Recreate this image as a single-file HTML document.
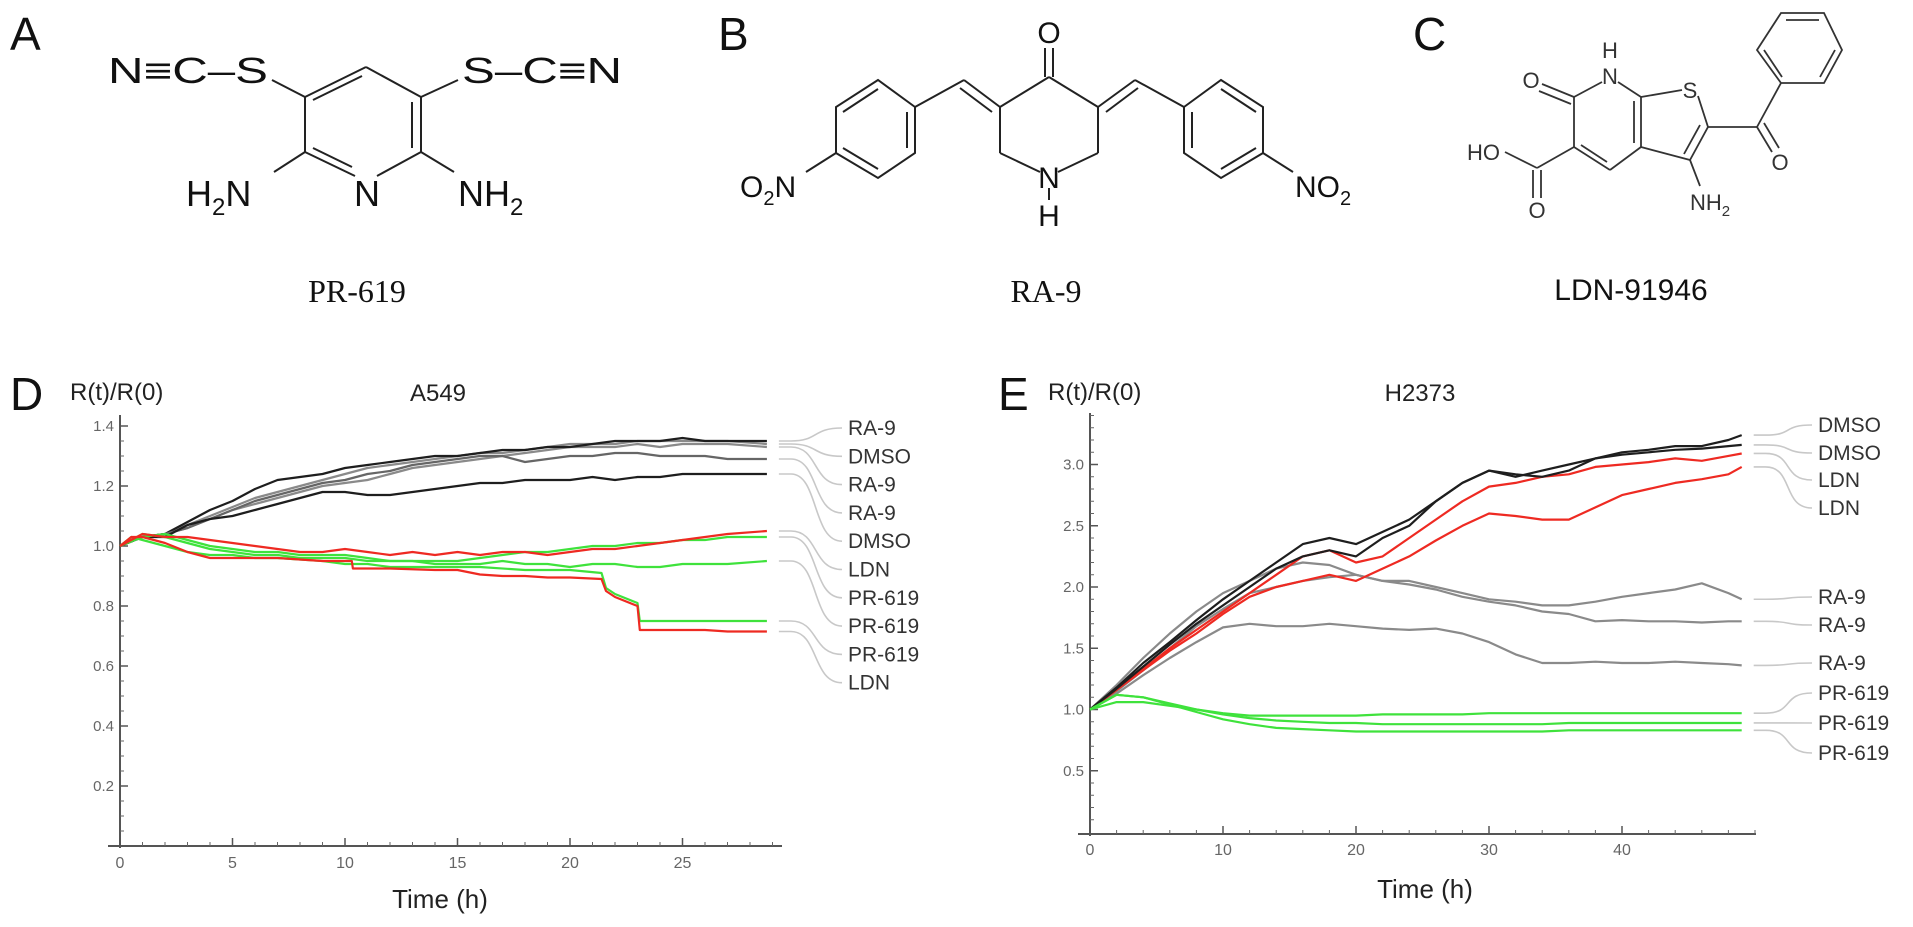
<!DOCTYPE html>
<html><head><meta charset="utf-8">
<style>
html,body{margin:0;padding:0;background:#fff;}
svg{display:block;font-family:"Liberation Sans",sans-serif;}
</style></head>
<body>
<svg id="fig" width="1913" height="927" viewBox="0 0 1913 927">
<text x="10" y="50" font-size="46" fill="#111">A</text>
<text x="718" y="50" font-size="46" fill="#111">B</text>
<text x="1413" y="50" font-size="46" fill="#111">C</text>
<text x="10" y="410" font-size="46" fill="#111">D</text>
<text x="998" y="410" font-size="46" fill="#111">E</text>

<g stroke="#222" stroke-width="2" fill="none">
  <line x1="366" y1="67" x2="305" y2="97"/><line x1="362" y1="76" x2="313" y2="100"/>
  <line x1="366" y1="67" x2="421" y2="97"/>
  <line x1="305" y1="97" x2="305" y2="152"/>
  <line x1="421" y1="97" x2="421" y2="152"/><line x1="412" y1="102" x2="412" y2="148"/>
  <line x1="305" y1="152" x2="355" y2="176"/><line x1="313" y1="148" x2="352" y2="167"/>
  <line x1="421" y1="152" x2="377" y2="176"/>
  <line x1="305" y1="97" x2="272" y2="80"/>
  <line x1="421" y1="97" x2="458" y2="80"/>
  <line x1="305" y1="152" x2="274" y2="172"/>
  <line x1="421" y1="152" x2="454" y2="172"/>
</g>
<g font-size="36" fill="#111">
  <text x="108" y="83" textLength="160" lengthAdjust="spacingAndGlyphs">N≡C–S</text>
  <text x="462" y="83" textLength="160" lengthAdjust="spacingAndGlyphs">S–C≡N</text>
  <text x="186" y="206">H<tspan font-size="24" dy="9">2</tspan><tspan dy="-9">N</tspan></text>
  <text x="354" y="206">N</text>
  <text x="458" y="206">NH<tspan font-size="24" dy="9">2</tspan></text>
</g>
<text x="357" y="302" font-family="Liberation Serif, serif" font-size="32" text-anchor="middle" fill="#111">PR-619</text>

<g stroke="#222" stroke-width="2" fill="none">
  <line x1="1045" y1="48" x2="1045" y2="77"/><line x1="1053" y1="48" x2="1053" y2="77"/>
  <line x1="1049" y1="77" x2="1000" y2="107"/><line x1="1049" y1="77" x2="1098" y2="107"/>
  <line x1="1000" y1="107" x2="1000" y2="153"/><line x1="1098" y1="107" x2="1098" y2="153"/>
  <line x1="1000" y1="153" x2="1040" y2="172"/><line x1="1098" y1="153" x2="1058" y2="172"/>
  <line x1="1049" y1="188" x2="1049" y2="200"/>
  <line x1="1000" y1="107" x2="964" y2="80"/><line x1="992" y1="112" x2="960" y2="88"/>
  <line x1="964" y1="80" x2="915" y2="107"/>
  <polygon points="915,107 878,80 836,107 836,153 878,178 915,153"/>
  <line x1="907" y1="112" x2="907" y2="148"/><line x1="843" y1="112" x2="878" y2="89"/><line x1="843" y1="148" x2="878" y2="169"/>
  <line x1="836" y1="153" x2="806" y2="172"/>
  <line x1="1098" y1="107" x2="1135" y2="80"/><line x1="1106" y1="112" x2="1138" y2="88"/>
  <line x1="1135" y1="80" x2="1184" y2="107"/>
  <polygon points="1184,107 1221,80 1263,107 1263,153 1221,178 1184,153"/>
  <line x1="1192" y1="112" x2="1192" y2="148"/><line x1="1256" y1="112" x2="1221" y2="89"/><line x1="1256" y1="148" x2="1221" y2="169"/>
  <line x1="1263" y1="153" x2="1293" y2="172"/>
</g>
<g font-size="30" fill="#111">
  <text x="1049" y="43" text-anchor="middle">O</text>
  <text x="1049" y="188" text-anchor="middle">N</text>
  <text x="1049" y="226" text-anchor="middle">H</text>
  <text x="740" y="197">O<tspan font-size="20" dy="8">2</tspan><tspan dy="-8">N</tspan></text>
  <text x="1295" y="197">NO<tspan font-size="20" dy="8">2</tspan></text>
</g>
<text x="1046" y="302" font-family="Liberation Serif, serif" font-size="32" text-anchor="middle" fill="#111">RA-9</text>

<g stroke="#333" stroke-width="1.8" fill="none">
  <line x1="1602" y1="82" x2="1574" y2="97"/>
  <line x1="1618" y1="82" x2="1641" y2="97"/>
  <line x1="1641" y1="97" x2="1641" y2="147"/><line x1="1634" y1="101" x2="1634" y2="143"/>
  <line x1="1641" y1="147" x2="1610" y2="170"/>
  <line x1="1610" y1="170" x2="1574" y2="147"/><line x1="1607" y1="162" x2="1581" y2="145"/>
  <line x1="1574" y1="147" x2="1574" y2="97"/>
  <line x1="1574" y1="97" x2="1542" y2="84"/><line x1="1571" y1="104" x2="1539" y2="91"/>
  <line x1="1641" y1="97" x2="1682" y2="90"/>
  <line x1="1698" y1="96" x2="1708" y2="127"/>
  <line x1="1708" y1="127" x2="1690" y2="160"/><line x1="1700" y1="125" x2="1684" y2="154"/>
  <line x1="1690" y1="160" x2="1641" y2="147"/>
  <line x1="1690" y1="160" x2="1700" y2="186"/>
  <line x1="1708" y1="127" x2="1757" y2="127"/>
  <line x1="1757" y1="127" x2="1772" y2="152"/><line x1="1764" y1="123" x2="1779" y2="148"/>
  <line x1="1757" y1="127" x2="1781" y2="83"/>
  <polygon points="1781,83 1757,50 1781,13 1824,13 1842,50 1824,83"/>
  <line x1="1786" y1="20" x2="1819" y2="20"/><line x1="1835" y1="50" x2="1820" y2="77"/><line x1="1764" y1="50" x2="1782" y2="77"/>
  <line x1="1574" y1="147" x2="1537" y2="168"/>
  <line x1="1537" y1="168" x2="1505" y2="152"/>
  <line x1="1533" y1="170" x2="1533" y2="198"/><line x1="1541" y1="170" x2="1541" y2="198"/>
</g>
<g font-size="22" fill="#333">
  <text x="1610" y="58" text-anchor="middle">H</text>
  <text x="1610" y="84" text-anchor="middle">N</text>
  <text x="1531" y="88" text-anchor="middle">O</text>
  <text x="1690" y="98" text-anchor="middle">S</text>
  <text x="1780" y="170" text-anchor="middle">O</text>
  <text x="1467" y="160">HO</text>
  <text x="1537" y="218" text-anchor="middle">O</text>
  <text x="1690" y="210">NH<tspan font-size="15" dy="6">2</tspan></text>
</g>
<text x="1631" y="300" font-size="30" text-anchor="middle" fill="#111">LDN-91946</text>

<g id="chartD"></g>
<g id="chartE"></g>
</svg>

<script>
// ===== Chart D (A549) data =====
const dTimes = [0,1,2,3,4,5,6,7,8,9,10,11,12,13,14,15,16,17,18,19,20,21,22,23,24,25,26,27,28.75];
const dRa9a = [1.0,1.03,1.04,1.08,1.12,1.15,1.19,1.22,1.23,1.24,1.26,1.27,1.28,1.29,1.30,1.30,1.31,1.32,1.32,1.33,1.33,1.34,1.35,1.35,1.35,1.36,1.35,1.35,1.35];
const dDmsoA = [1.0,1.03,1.04,1.07,1.10,1.13,1.16,1.18,1.20,1.22,1.24,1.26,1.27,1.28,1.29,1.30,1.31,1.31,1.32,1.33,1.34,1.34,1.34,1.35,1.35,1.35,1.35,1.35,1.34];
const dRa9b = [1.0,1.03,1.04,1.06,1.09,1.12,1.15,1.17,1.19,1.21,1.22,1.24,1.25,1.27,1.28,1.29,1.30,1.30,1.28,1.29,1.30,1.30,1.31,1.31,1.30,1.30,1.30,1.29,1.29];
const dRa9c = [1.0,1.03,1.03,1.07,1.09,1.10,1.12,1.14,1.16,1.18,1.18,1.17,1.17,1.18,1.19,1.20,1.21,1.21,1.22,1.22,1.22,1.23,1.22,1.23,1.23,1.24,1.24,1.24,1.24];
const dDmsoB = [1.0,1.03,1.04,1.06,1.09,1.12,1.14,1.16,1.18,1.20,1.21,1.22,1.24,1.26,1.27,1.28,1.29,1.30,1.31,1.32,1.33,1.33,1.33,1.34,1.33,1.34,1.34,1.34,1.33];
const dLdnA = [1.0,1.04,1.03,1.03,1.02,1.01,1.00,0.99,0.98,0.98,0.99,0.98,0.97,0.98,0.97,0.98,0.97,0.98,0.98,0.97,0.98,0.99,0.99,1.00,1.01,1.02,1.03,1.04,1.05];
const dPrA = [1.0,1.03,1.04,1.02,1.00,0.99,0.98,0.98,0.97,0.97,0.97,0.96,0.95,0.95,0.95,0.95,0.96,0.97,0.98,0.98,0.99,1.00,1.00,1.01,1.01,1.02,1.02,1.03,1.03];
const dPrB = [1.0,1.04,1.03,1.01,0.99,0.98,0.97,0.97,0.96,0.96,0.96,0.95,0.95,0.95,0.94,0.94,0.94,0.95,0.94,0.94,0.93,0.94,0.94,0.93,0.93,0.94,0.94,0.94,0.95];
const dPrCTimes = [0,0.5,1,2,3,4,5,6,7,8,9,10,11,12,14,16,18,20,21.4,21.6,22,23,23.1,24,26,28.75];
const dPrC = [1.0,1.03,1.02,1.0,0.98,0.97,0.97,0.96,0.96,0.955,0.95,0.94,0.94,0.93,0.93,0.93,0.92,0.92,0.91,0.86,0.84,0.81,0.75,0.75,0.75,0.75];
const dLdnBTimes = [0,0.5,1,1.5,2,3,4,5,6,7,8,9,10.3,10.35,12,14,15,16,17,18,19,20,21.4,21.6,22,23,23.1,24,25,26,27,28.75];
const dLdnB = [1.0,1.03,1.03,1.02,1.01,0.98,0.96,0.96,0.96,0.96,0.955,0.95,0.95,0.925,0.925,0.92,0.92,0.905,0.90,0.90,0.895,0.895,0.89,0.85,0.83,0.80,0.72,0.72,0.72,0.72,0.715,0.715];
const dLabels = ["RA-9","DMSO","RA-9","RA-9","DMSO","LDN","PR-619","PR-619","PR-619","LDN"];
const dYTicks = [0.2,0.4,0.6,0.8,1.0,1.2,1.4];
const dXTicks = [0,5,10,15,20,25];

// ===== Chart E (H2373) data =====
const eTimes = [0,2,4,6,8,10,12,14,16,18,20,22,24,26,28,30,32,34,36,38,40,42,44,46,48,49];
const eDmsoA = [1.0,1.18,1.38,1.55,1.73,1.90,2.05,2.20,2.35,2.40,2.35,2.45,2.55,2.70,2.85,2.95,2.92,2.90,2.95,3.05,3.10,3.12,3.15,3.15,3.20,3.24];
const eDmsoB = [1.0,1.17,1.35,1.53,1.70,1.85,2.00,2.15,2.25,2.30,2.25,2.40,2.50,2.70,2.85,2.95,2.90,2.95,3.00,3.05,3.08,3.10,3.12,3.13,3.15,3.16];
const eLdnA = [1.0,1.16,1.33,1.50,1.65,1.80,1.95,2.10,2.25,2.30,2.20,2.25,2.40,2.55,2.70,2.82,2.85,2.90,2.92,2.98,3.00,3.02,3.05,3.03,3.07,3.09];
const eLdnB = [1.0,1.16,1.32,1.48,1.62,1.78,1.92,2.00,2.05,2.10,2.05,2.15,2.25,2.38,2.50,2.60,2.58,2.55,2.55,2.65,2.75,2.80,2.85,2.88,2.92,2.98];
const eRa9a = [1.0,1.20,1.42,1.62,1.80,1.95,2.05,2.15,2.20,2.18,2.10,2.05,2.05,2.00,1.95,1.90,1.88,1.85,1.85,1.88,1.92,1.95,1.98,2.03,1.95,1.90];
const eRa9b = [1.0,1.15,1.32,1.50,1.68,1.82,1.95,2.00,2.05,2.08,2.10,2.05,2.02,1.98,1.92,1.88,1.85,1.80,1.78,1.72,1.73,1.72,1.72,1.71,1.72,1.72];
const eRa9c = [1.0,1.13,1.28,1.42,1.55,1.67,1.70,1.68,1.68,1.70,1.68,1.66,1.65,1.66,1.62,1.55,1.45,1.38,1.38,1.39,1.38,1.38,1.39,1.38,1.37,1.36];
const ePrA = [1.0,1.12,1.10,1.05,1.00,0.97,0.95,0.95,0.95,0.95,0.95,0.96,0.96,0.96,0.96,0.97,0.97,0.97,0.97,0.97,0.97,0.97,0.97,0.97,0.97,0.97];
const ePrB = [1.0,1.06,1.06,1.03,1.00,0.96,0.93,0.91,0.90,0.89,0.89,0.88,0.88,0.88,0.88,0.88,0.88,0.88,0.89,0.89,0.89,0.89,0.89,0.89,0.89,0.89];
const ePrC = [1.0,1.12,1.10,1.04,0.98,0.92,0.88,0.85,0.84,0.83,0.82,0.82,0.82,0.82,0.82,0.82,0.82,0.82,0.83,0.83,0.83,0.83,0.83,0.83,0.83,0.83];
const eLabels = ["DMSO","DMSO","LDN","LDN","RA-9","RA-9","RA-9","PR-619","PR-619","PR-619"];
const eYTicks = [0.5,1.0,1.5,2.0,2.5,3.0];
const eXTicks = [0,10,20,30,40];

const NS = "http://www.w3.org/2000/svg";
function mk(parent, tag, attrs){
  const el = document.createElementNS(NS, tag);
  for (const k in attrs) el.setAttribute(k, attrs[k]);
  parent.appendChild(el);
  return el;
}
const BLACK="#1e1e1e", GRAY="#8a8a8a", RED="#ee2a22", GREEN="#3fe23c";

const dx = t => 120 + t*22.5;
const dy = v => 846 - v*300;
const ex = t => 1090 + t*13.3;
const ey = v => 832 - v*122.5;

function drawAxes(g, cfg){
  const {xf,yf,x0,y0,xEnd,yTop,yTicks,yMinorStep,yMinorMax,xTicks,xMinorStep,xMax,yFmt,labelY} = cfg;
  let el;
  el = mk(g,'line',{x1:x0,y1:y0+2,x2:x0,y2:yTop,stroke:'#555','stroke-width':2});
  
  
  el = mk(g,'line',{x1:x0-12,y1:y0,x2:xEnd,y2:y0,stroke:'#555','stroke-width':2});
  
  
  for (let v=yMinorStep; v<=yMinorMax+1e-9; v+=yMinorStep){
    const m = mk(g,'line',{x1:x0,y1:yf(v),x2:x0+4,y2:yf(v),stroke:'#666','stroke-width':1});
    
    
  }
  yTicks.forEach(v=>{
    const m = mk(g,'line',{x1:x0,y1:yf(v),x2:x0+8,y2:yf(v),stroke:'#555','stroke-width':1.5});
    
    
    const t = mk(g,'text',{x:x0-6,y:yf(v)+5,'font-size':15,'text-anchor':'end',fill:'#666'});
    t.textContent = yFmt(v);
    
    
  });
  for (let t=xMinorStep; t<=xMax+1e-9; t+=xMinorStep){
    const m = mk(g,'line',{x1:xf(t),y1:y0,x2:xf(t),y2:y0-4,stroke:'#666','stroke-width':1});
    
    
  }
  xTicks.forEach(v=>{
    const m = mk(g,'line',{x1:xf(v),y1:y0,x2:xf(v),y2:y0-8,stroke:'#555','stroke-width':1.5});
    
    
    const t = mk(g,'text',{x:xf(v),y:labelY,'font-size':16,'text-anchor':'middle',fill:'#666'});
    t.textContent = String(v);
    
    
  });
}

function drawSeries(g, times, vals, xf, yf, color, name){
  const pts = times.map((t,i)=>xf(t).toFixed(1)+','+yf(vals[i]).toFixed(1)).join(' ');
  const p = mk(g,'polyline',{points:pts,fill:'none',stroke:color,'stroke-width':2.2,'stroke-linejoin':'round'});
  
  
  return {x: xf(times[times.length-1]), y: yf(vals[vals.length-1])};
}

function drawLabels(g, ends, labels, labelX, labelYs){
  const order = ends.slice().sort((a,b)=>a.y-b.y);
  labels.forEach((lab,i)=>{
    const e = order[i];
    const ly = labelYs[i];
    const x1 = e.x+12, x2 = labelX-6;
    const d = `M${x1},${e.y} L${x1+12},${e.y} C${x1+40},${e.y} ${x2-30},${ly} ${x2},${ly}`;
    const p = mk(g,'path',{d:d,fill:'none',stroke:'#c8c8c8','stroke-width':1.6});
    
    
    const t = mk(g,'text',{x:labelX,y:ly+7,'font-size':21,fill:'#333'});
    t.textContent = lab;
    
    
  });
}

(function(){
  const g = document.getElementById('chartD');
  drawAxes(g,{xf:dx,yf:dy,x0:120,y0:846,xEnd:782,yTop:415,yTicks:dYTicks,yMinorStep:0.05,yMinorMax:1.42,
    xTicks:dXTicks,xMinorStep:1,xMax:29,yFmt:v=>v.toFixed(1),labelY:868});
  let t;
  t = mk(g,'text',{x:70,y:400,'font-size':24,fill:'#222'}); t.textContent='R(t)/R(0)';
  
  
  t = mk(g,'text',{x:438,y:401,'font-size':24,'text-anchor':'middle',fill:'#222'}); t.textContent='A549';
  
  
  t = mk(g,'text',{x:440,y:908,'font-size':26,'text-anchor':'middle',fill:'#222'}); t.textContent='Time (h)';
  
  
  const ends = [];
  ends.push(drawSeries(g,dTimes,dDmsoA,dx,dy,GRAY,'series-dmso-1'));
  ends.push(drawSeries(g,dTimes,dDmsoB,dx,dy,GRAY,'series-dmso-2'));
  ends.push(drawSeries(g,dTimes,dRa9a,dx,dy,BLACK,'series-ra9-1'));
  ends.push(drawSeries(g,dTimes,dRa9b,dx,dy,'#666','series-ra9-2'));
  ends.push(drawSeries(g,dTimes,dRa9c,dx,dy,BLACK,'series-ra9-3'));
  ends.push(drawSeries(g,dTimes,dPrA,dx,dy,GREEN,'series-pr619-1'));
  ends.push(drawSeries(g,dTimes,dPrB,dx,dy,GREEN,'series-pr619-2'));
  ends.push(drawSeries(g,dPrCTimes,dPrC,dx,dy,GREEN,'series-pr619-3'));
  ends.push(drawSeries(g,dTimes,dLdnA,dx,dy,RED,'series-ldn-1'));
  ends.push(drawSeries(g,dLdnBTimes,dLdnB,dx,dy,RED,'series-ldn-2'));
  const ys = dLabels.map((_,i)=>428+i*28.3);
  drawLabels(g,ends,dLabels,848,ys);
})();

(function(){
  const g = document.getElementById('chartE');
  drawAxes(g,{xf:ex,yf:ey,x0:1090,y0:834,xEnd:1756,yTop:413,yTicks:eYTicks,yMinorStep:0.1,yMinorMax:3.4,
    xTicks:eXTicks,xMinorStep:2,xMax:50,yFmt:v=>v.toFixed(1),labelY:855});
  let t;
  t = mk(g,'text',{x:1048,y:400,'font-size':24,fill:'#222'}); t.textContent='R(t)/R(0)';
  
  
  t = mk(g,'text',{x:1420,y:401,'font-size':24,'text-anchor':'middle',fill:'#222'}); t.textContent='H2373';
  
  
  t = mk(g,'text',{x:1425,y:898,'font-size':26,'text-anchor':'middle',fill:'#222'}); t.textContent='Time (h)';
  
  
  const ends = [];
  ends.push(drawSeries(g,eTimes,eRa9a,ex,ey,GRAY,'series-ra9-1'));
  ends.push(drawSeries(g,eTimes,eRa9b,ex,ey,GRAY,'series-ra9-2'));
  ends.push(drawSeries(g,eTimes,eRa9c,ex,ey,GRAY,'series-ra9-3'));
  ends.push(drawSeries(g,eTimes,eLdnA,ex,ey,RED,'series-ldn-1'));
  ends.push(drawSeries(g,eTimes,eLdnB,ex,ey,RED,'series-ldn-2'));
  ends.push(drawSeries(g,eTimes,eDmsoA,ex,ey,BLACK,'series-dmso-1'));
  ends.push(drawSeries(g,eTimes,eDmsoB,ex,ey,BLACK,'series-dmso-2'));
  ends.push(drawSeries(g,eTimes,ePrA,ex,ey,GREEN,'series-pr619-1'));
  ends.push(drawSeries(g,eTimes,ePrB,ex,ey,GREEN,'series-pr619-2'));
  ends.push(drawSeries(g,eTimes,ePrC,ex,ey,GREEN,'series-pr619-3'));
  const ys = [425,453,480,508,597,625,663,693,723,753];
  drawLabels(g,ends,eLabels,1818,ys);
})();
</script>
</body></html>
